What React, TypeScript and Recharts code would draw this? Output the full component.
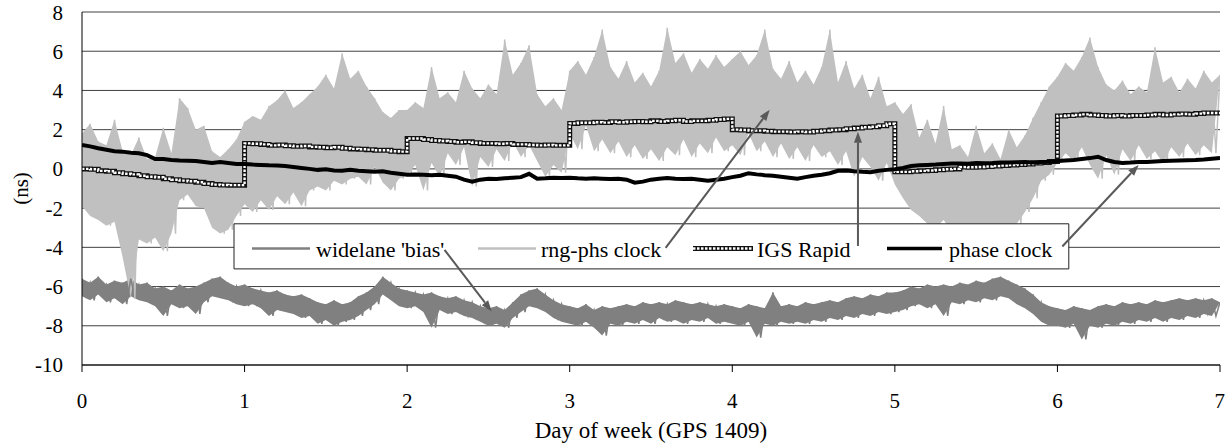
import React from "react";
import {
  ComposedChart,
  Line,
  Area,
  XAxis,
  YAxis,
  CartesianGrid,
  ReferenceArea,
  ReferenceLine,
} from "recharts";

const DAY_TICKS = [0, 1, 2, 3, 4, 5, 6, 7];
const NS_TICKS = [-10, -8, -6, -4, -2, 0, 2, 4, 6, 8];

// noisy series: one sample every 0.025 day (peak, trough, peak, ...)
const NOISY_STEP = 0.025;
// smooth series: one sample every 0.05 day
const SMOOTH_STEP = 0.05;

const RNG_PHS = [
  // day 0
  1.8, -1.9, 2.3, -2.4, 1.4, -2.6, 1.2, -2.9, 2.5, -2.7, 0.9, -4.5, 0.7, -6.6, 1.6, -3.6, 0.5, -3.8, 0.6, -3.5,
  2.1, -4.2, 0.8, -3.3, 3.6, -1.6, 3.1, -1.3, 2.0, -1.9, 2.2, -2.0, 0.9, -3.0, 0.6, -3.3, 1.0, -3.1, 1.5, -2.4,
  // day 1
  2.4, -1.8, 2.7, -2.2, 2.5, -1.6, 3.2, -2.1, 3.5, -1.4, 4.0, -1.8, 3.1, -1.2, 3.4, -1.9, 3.8, -1.1, 4.2, -0.9,
  4.8, -1.1, 4.1, -0.6, 5.9, -0.8, 4.6, -0.5, 5.0, -0.4, 4.2, -0.8, 3.6, 0.1, 2.9, -0.7, 2.6, -1.1, 3.0, -0.5,
  // day 2
  3.0, -0.3, 3.4, 0.2, 3.1, -1.1, 5.2, 0.3, 3.6, -0.4, 3.9, 0.8, 3.4, 0.2, 5.0, 1.1, 4.1, -0.9, 3.6, 0.6,
  4.3, 0.1, 3.8, 1.0, 6.6, 0.4, 4.8, 1.4, 5.4, 0.6, 6.3, 1.2, 3.8, 0.4, 3.2, -0.4, 3.6, 0.2, 3.0, -0.2,
  // day 3
  5.0, 1.8, 5.5, 1.0, 4.8, 2.2, 5.7, 0.9, 7.1, 1.5, 5.2, 0.8, 4.6, 1.4, 5.5, 0.6, 4.4, 1.2, 4.9, 0.5,
  4.2, 1.0, 5.0, 0.4, 7.2, 1.1, 5.4, 0.7, 5.9, 1.5, 4.9, 0.6, 5.6, 1.3, 5.1, 0.8, 5.8, 1.6, 5.2, 0.9,
  // day 4
  5.6, 1.2, 6.0, 0.7, 5.3, 1.8, 5.8, 0.9, 7.1, 1.4, 5.1, 0.6, 4.6, 1.3, 5.5, 0.5, 4.4, 1.1, 5.0, 0.4,
  4.3, 1.2, 5.2, 0.6, 7.1, 0.9, 4.4, 0.2, 5.5, 0.9, 4.1, -0.4, 4.8, 0.6, 3.6, 0.1, 4.7, -0.6, 3.2, 0.3,
  // day 5
  3.4, -0.8, 2.8, -1.5, 3.3, -2.1, 1.6, -2.4, 2.5, -2.8, 1.3, -3.0, 3.2, -2.6, 1.0, -3.2, 1.2, -3.4, 0.6, -2.9,
  2.2, -3.5, 0.8, -3.1, 1.3, -3.6, 0.5, -3.0, 2.0, -3.3, 1.1, -2.8, 1.7, -2.2, 2.6, -1.5, 3.4, -0.6, 4.2, -0.3,
  // day 6
  4.7, 0.3, 5.4, 0.8, 5.0, 0.4, 5.7, 1.1, 6.7, 0.2, 5.2, -0.5, 4.3, 0.7, 4.0, -0.3, 4.5, 1.0, 3.8, 0.4,
  4.2, 1.2, 3.9, 0.5, 6.2, 0.9, 4.4, 0.3, 4.7, 1.1, 3.9, 0.6, 4.6, 1.3, 4.1, 0.7, 5.0, 1.2, 4.4, 0.8,
  4.8,
];

const WIDELANE = [
  // day 0
  -5.6, -6.5, -5.8, -6.7, -5.5, -6.4, -5.9, -6.8, -5.7, -6.6, -5.8, -6.9, -5.6, -6.5, -5.9, -6.7, -5.8, -6.8, -6.1, -7.0,
  -6.0, -7.5, -6.2, -6.9, -5.9, -7.1, -6.1, -7.0, -6.0, -7.4, -5.8, -6.8, -5.6, -6.5, -5.5, -6.6, -5.8, -6.7, -6.0, -6.9,
  // day 1
  -5.9, -7.0, -6.1, -6.9, -6.2, -7.1, -6.3, -7.5, -6.2, -7.2, -6.4, -7.3, -6.5, -7.4, -6.4, -7.6, -6.6, -7.5, -6.8, -7.9,
  -6.9, -7.7, -6.7, -8.0, -6.9, -7.8, -6.8, -7.7, -6.5, -7.5, -6.3, -7.2, -6.0, -6.9, -5.5, -6.4, -5.8, -6.7, -6.1, -7.0,
  // day 2
  -6.2, -7.1, -6.3, -7.0, -6.4, -7.3, -6.3, -8.1, -6.5, -7.2, -6.6, -7.4, -6.5, -7.3, -6.7, -7.5, -6.8, -7.6, -7.0, -7.8,
  -7.1, -8.0, -7.0, -7.9, -7.2, -8.1, -6.8, -7.6, -6.4, -7.3, -6.2, -7.0, -6.1, -7.1, -6.4, -7.3, -6.7, -7.6, -6.9, -7.8,
  // day 3
  -7.0, -7.9, -7.1, -8.0, -6.9, -7.8, -7.2, -8.1, -7.0, -8.5, -7.1, -7.9, -7.0, -8.0, -6.9, -7.8, -7.0, -7.9, -6.8, -7.7,
  -6.9, -7.9, -6.8, -7.6, -6.9, -7.8, -6.7, -7.7, -6.8, -7.9, -6.9, -7.7, -6.8, -7.8, -6.9, -7.6, -7.0, -7.9, -6.9, -7.8,
  // day 4
  -7.0, -7.9, -7.1, -8.0, -6.9, -7.8, -7.0, -8.6, -7.1, -7.9, -6.3, -8.0, -7.0, -7.8, -6.9, -7.9, -7.0, -7.8, -6.8, -7.9,
  -6.9, -7.7, -6.8, -7.8, -6.7, -7.6, -6.8, -7.7, -6.6, -7.5, -6.5, -7.6, -6.6, -7.4, -6.4, -7.5, -6.5, -7.3, -6.3, -7.4,
  // day 5
  -6.3, -7.3, -6.2, -7.2, -6.0, -7.0, -6.1, -6.9, -5.9, -7.1, -6.0, -6.9, -5.9, -7.5, -6.0, -6.8, -5.8, -6.9, -5.9, -6.7,
  -5.7, -6.8, -5.8, -6.6, -5.6, -6.7, -5.5, -6.5, -5.7, -6.6, -5.9, -6.9, -6.1, -7.1, -6.4, -7.4, -6.8, -7.8, -7.0, -8.0,
  // day 6
  -7.1, -8.0, -7.2, -8.1, -7.0, -7.9, -7.1, -8.7, -7.2, -8.0, -7.0, -8.1, -6.9, -7.9, -7.0, -8.0, -6.8, -7.8, -6.9, -7.9,
  -6.8, -7.7, -6.9, -7.8, -6.7, -7.6, -6.8, -7.8, -6.7, -7.6, -6.6, -7.7, -6.7, -7.5, -6.6, -7.6, -6.7, -7.4, -6.6, -7.5,
  -6.8,
];

const IGS_RAPID = [
  0.0, -0.02, -0.1, -0.12, -0.2, -0.25, -0.28, -0.35, -0.4, -0.43, -0.5, -0.55, -0.6, -0.63, -0.68, -0.75, -0.8, -0.82, -0.83, -0.83,
  1.3, 1.28, 1.25, 1.2, 1.22, 1.18, 1.15, 1.17, 1.12, 1.1, 1.08, 1.1, 1.05, 1.02, 1.0, 0.98, 0.95, 0.95, 0.9, 0.88,
  1.55, 1.55, 1.5, 1.45, 1.42, 1.4, 1.36, 1.38, 1.33, 1.3, 1.3, 1.28, 1.3, 1.25, 1.25, 1.22, 1.2, 1.22, 1.2, 1.2,
  2.32, 2.35, 2.35, 2.38, 2.36, 2.4, 2.38, 2.4, 2.42, 2.4, 2.45, 2.42, 2.45, 2.48, 2.42, 2.45, 2.45, 2.48, 2.52, 2.55,
  2.0, 1.98, 1.95, 1.95, 1.92, 1.9, 1.9, 1.88, 1.9, 1.88, 1.92, 1.95, 1.98, 2.0, 2.05, 2.08, 2.12, 2.15, 2.2, 2.3,
  -0.15, -0.15, -0.12, -0.1, -0.08, -0.05, -0.02, 0.0, 0.1, 0.08, 0.1, 0.12, 0.15, 0.17, 0.2, 0.22, 0.25, 0.3, 0.33, 0.38,
  2.7, 2.72, 2.75, 2.78, 2.75, 2.72, 2.7, 2.72, 2.7, 2.72, 2.72, 2.75, 2.78, 2.75, 2.78, 2.8, 2.78, 2.82, 2.85, 2.85,
  2.85,
];

const PHASE_CLOCK = [
  1.22, 1.15, 1.05, 0.98, 0.9, 0.88, 0.82, 0.8, 0.7, 0.5, 0.5, 0.45, 0.43, 0.42, 0.4, 0.35, 0.3, 0.35, 0.3, 0.25,
  0.25, 0.22, 0.2, 0.18, 0.17, 0.15, 0.1, 0.05, 0.0, -0.05, -0.02, -0.08, -0.1, -0.05, -0.1, -0.12, -0.15, -0.12, -0.2, -0.25,
  -0.3, -0.28, -0.3, -0.32, -0.3, -0.35, -0.4, -0.55, -0.65, -0.55, -0.5, -0.52, -0.48, -0.45, -0.42, -0.25, -0.5, -0.48, -0.45, -0.47,
  -0.45, -0.48, -0.5, -0.48, -0.5, -0.52, -0.5, -0.55, -0.7, -0.65, -0.55, -0.5, -0.46, -0.5, -0.52, -0.5, -0.55, -0.6, -0.55, -0.5,
  -0.42, -0.35, -0.22, -0.28, -0.32, -0.35, -0.4, -0.45, -0.5, -0.42, -0.35, -0.3, -0.22, -0.1, -0.08, -0.12, -0.15, -0.17, -0.1, -0.05,
  -0.02, 0.05, 0.15, 0.18, 0.2, 0.22, 0.25, 0.27, 0.28, 0.26, 0.3, 0.29, 0.3, 0.32, 0.33, 0.34, 0.35, 0.33, 0.35, 0.36,
  0.4, 0.43, 0.45, 0.5, 0.55, 0.62, 0.45, 0.35, 0.3, 0.32, 0.35, 0.35, 0.38, 0.4, 0.42, 0.43, 0.44, 0.45, 0.48, 0.52,
  0.55,
];

// callout arrows, [day, ns] from -> to
const CALLOUTS = [
  { from: { x: 2.23, y: -4.13 }, to: { x: 2.52, y: -7.27 } },
  { from: { x: 3.59, y: -4.03 }, to: { x: 4.23, y: 3.01 } },
  { from: { x: 4.773, y: -3.93 }, to: { x: 4.773, y: 1.9 } },
  { from: { x: 6.03, y: -3.96 }, to: { x: 6.5, y: 0.2 } },
];

const toRows = (vals: number[], step: number) =>
  vals.map((v, i) => ({ d: Math.round(i * step * 10000) / 10000, v }));

// the noisy traces swing peak -> trough; fill between each peak and its trough
const toBand = (vals: number[], step: number) => {
  const rows: { d: number; band: [number, number] }[] = [];
  for (let i = 0; i < vals.length; i += 2) {
    const hi = vals[i];
    const lo = i + 1 < vals.length ? vals[i + 1] : vals[i];
    rows.push({ d: Math.round(i * step * 10000) / 10000, band: [Math.min(lo, hi), Math.max(lo, hi)] });
  }
  return rows;
};

const rngRows = toRows(RNG_PHS, NOISY_STEP);
const wideRows = toRows(WIDELANE, NOISY_STEP);
const rngBand = toBand(RNG_PHS, NOISY_STEP);
const wideBand = toBand(WIDELANE, NOISY_STEP);
const igsRows = toRows(IGS_RAPID, SMOOTH_STEP);
const phaseRows = toRows(PHASE_CLOCK, SMOOTH_STEP);

const FONT = "'Liberation Serif', 'Times New Roman', serif";
const ARROW = "#595959";
const WIDE_C = "#808080";
const RNG_C = "#c0c0c0";

function Arrow(props: any) {
  const { x1, y1, x2, y2 } = props;
  const a = Math.atan2(y2 - y1, x2 - x1);
  const len = 11;
  const half = 4;
  const bx = x2 - len * Math.cos(a);
  const by = y2 - len * Math.sin(a);
  const px = -Math.sin(a) * half;
  const py = Math.cos(a) * half;
  return (
    <g>
      <line x1={x1} y1={y1} x2={bx} y2={by} stroke={ARROW} strokeWidth={2} />
      <polygon
        points={`${x2},${y2} ${bx + px},${by + py} ${bx - px},${by - py}`}
        fill={ARROW}
      />
    </g>
  );
}

function LegendOverlay() {
  const text = { fontFamily: FONT, fontSize: 22, fill: "#000" } as const;
  return (
    <svg
      width={835}
      height={45}
      style={{ position: "absolute", left: 234, top: 224, overflow: "visible" }}
    >
      <line x1={18} y1={24.5} x2={76} y2={24.5} stroke={WIDE_C} strokeWidth={2.5} />
      <text x={82} y={32.7} {...text}>widelane 'bias'</text>
      <line x1={244} y1={24.5} x2={302} y2={24.5} stroke={RNG_C} strokeWidth={2.5} />
      <text x={307} y={32.7} {...text}>rng-phs clock</text>
      <line x1={459} y1={24.5} x2={519} y2={24.5} stroke="#111" strokeWidth={5} />
      <line x1={459} y1={24.5} x2={519} y2={24.5} stroke="#fff" strokeWidth={2.4} strokeDasharray="2.5 1.5" />
      <text x={523} y={32.7} {...text}>IGS Rapid</text>
      <line x1={653} y1={24.5} x2={708} y2={24.5} stroke="#000" strokeWidth={3.5} />
      <text x={715} y={32.7} {...text}>phase clock</text>
    </svg>
  );
}

export default function App() {
  const tick = { fontSize: 21, fill: "#000", fontFamily: FONT };
  const plain = { dot: false, activeDot: false, isAnimationActive: false } as const;
  return (
    <div style={{ position: "relative", width: 1225, height: 444, fontFamily: FONT }}>
      <style>{`body{margin:0}`}</style>
      <ComposedChart width={1225} height={444} margin={{ top: 12, right: 5, bottom: 0, left: 0 }}>
        <CartesianGrid vertical={false} stroke="#404040" />
        <XAxis
          type="number"
          dataKey="d"
          domain={[0, 7]}
          ticks={DAY_TICKS}
          allowDataOverflow
          height={79}
          tick={tick}
          tickSize={7}
          tickMargin={21}
          axisLine={{ stroke: "#000" }}
          tickLine={{ stroke: "#000" }}
          label={{
            value: "Day of week (GPS 1409)",
            position: "insideBottom",
            offset: 6,
            style: { fontSize: 23, fill: "#000", fontFamily: FONT },
          }}
        />
        <YAxis
          type="number"
          domain={[-10, 8]}
          ticks={NS_TICKS}
          allowDataOverflow
          width={82}
          tick={tick}
          tickLine={false}
          tickSize={6}
          tickMargin={13}
          axisLine={{ stroke: "#000" }}
          label={{
            value: "(ns)",
            angle: -90,
            position: "insideLeft",
            offset: 21,
            style: { fontSize: 21, fill: "#000", fontFamily: FONT, textAnchor: "middle" },
          }}
        />
        <Area
          data={wideBand}
          dataKey="band"
          type="linear"
          stroke="none"
          fill={WIDE_C}
          fillOpacity={1}
          {...plain}
        />
        <Line data={wideRows} dataKey="v" type="linear" stroke={WIDE_C} strokeWidth={1.5} {...plain} />
        <Area
          data={rngBand}
          dataKey="band"
          type="linear"
          stroke="none"
          fill={RNG_C}
          fillOpacity={1}
          {...plain}
        />
        <Line data={rngRows} dataKey="v" type="linear" stroke={RNG_C} strokeWidth={1.5} {...plain} />
        <Line data={igsRows} dataKey="v" type="stepAfter" stroke="#111" strokeWidth={5} {...plain} />
        <Line
          data={igsRows}
          dataKey="v"
          type="stepAfter"
          stroke="#fff"
          strokeWidth={2.4}
          strokeDasharray="2.5 1.5"
          {...plain}
        />
        <Line data={phaseRows} dataKey="v" type="linear" stroke="#000" strokeWidth={4} {...plain} />
        <ReferenceArea
          x1={0.935}
          x2={6.07}
          y1={-5.1}
          y2={-2.8}
          fill="#fff"
          fillOpacity={1}
          stroke="#222"
          strokeWidth={1}
          ifOverflow="visible"
          zIndex={450}
        />
        {CALLOUTS.map((c, i) => (
          <ReferenceLine
            key={i}
            segment={[c.from, c.to]}
            shape={Arrow}
            ifOverflow="visible"
            zIndex={460}
          />
        ))}
      </ComposedChart>
      <LegendOverlay />
    </div>
  );
}
